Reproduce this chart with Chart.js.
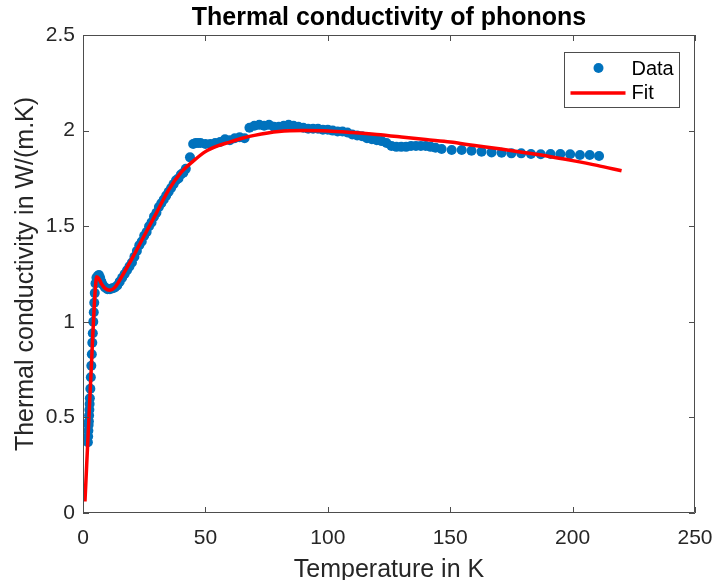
<!DOCTYPE html>
<html><head><meta charset="utf-8">
<script src="https://cdn.jsdelivr.net/npm/chart.js@4"></script>
<style>html,body{margin:0;padding:0;background:#fff}#wrap{width:714px;height:580px}</style>
</head><body><div id="wrap"><canvas id="c" width="714" height="580"></canvas></div>
<script>
// Measured data (Temperature in K, Thermal conductivity W/(m.K))
const dataT = [2.0,2.1,2.2,2.3,2.4,2.5,2.6,2.7,2.8,3.0,3.2,3.4,3.6,3.8,4.0,4.2,4.4,4.6,4.8,5.1,5.5,6.0,6.5,7.0,7.5,8,9,10,11,12,13,14,15,16,17,18,19,20,21,22,23,24,25,26,27,28,29,30,31,32,33,34,35,36,37,38,39,40,41,42,43.7,45,46,47,48,50,52,54,56,58,60,62,64,66,68,70,72,74,76,78,80,82,84,86,88,90,92,94,96,98,100,102,104,106,108,110,112,114,116,118,120,122,124,126,128,130,132,134,136,138,140,142,144,146.5,150.6,154.7,158.7,162.8,166.9,171,175,179,183,187,191,195,199,203,207,210.8];
const dataK = [0.37,0.40,0.43,0.46,0.48,0.51,0.54,0.57,0.60,0.65,0.71,0.77,0.83,0.89,0.94,1.00,1.05,1.10,1.15,1.20,1.23,1.24,1.245,1.23,1.21,1.195,1.18,1.17,1.17,1.175,1.18,1.19,1.21,1.23,1.25,1.27,1.29,1.31,1.34,1.37,1.40,1.42,1.45,1.47,1.50,1.52,1.55,1.57,1.60,1.62,1.64,1.66,1.68,1.70,1.72,1.74,1.75,1.77,1.78,1.80,1.86,1.93,1.935,1.935,1.935,1.93,1.93,1.935,1.94,1.955,1.95,1.96,1.965,1.96,2.015,2.025,2.03,2.025,2.03,2.02,2.02,2.025,2.03,2.025,2.02,2.015,2.01,2.01,2.01,2.005,2.005,2.0,1.995,1.995,1.99,1.98,1.975,1.97,1.96,1.955,1.95,1.945,1.935,1.92,1.915,1.915,1.915,1.92,1.92,1.92,1.92,1.915,1.91,1.904,1.899,1.899,1.895,1.89,1.886,1.884,1.881,1.881,1.878,1.876,1.878,1.878,1.876,1.872,1.872,1.867];
// Fitted curve
const fitT = [0.8,1.5,2,2.5,3,3.5,4,4.5,5,5.6,6.5,7.5,9,11,13,16,20,25,30,35,40,45,50,55,60,65,70,80,90,100,110,120,130,140,150,160,170,180,190,200,210,220];
const fitK = [0.06,0.25,0.385,0.52,0.655,0.79,0.93,1.06,1.17,1.235,1.225,1.2,1.175,1.165,1.18,1.24,1.33,1.45,1.57,1.69,1.78,1.84,1.89,1.92,1.94,1.96,1.975,1.995,2.0,1.998,1.99,1.98,1.967,1.953,1.94,1.922,1.905,1.886,1.866,1.843,1.818,1.79];
const xTicks = [0,50,100,150,200,250];
const yTicks = [0,0.5,1,1.5,2,2.5];
const seriesNames = ['Data','Fit'];
const titleText = 'Thermal conductivity of phonons';
const xLabel = 'Temperature in K';
const yLabel = 'Thermal conductivity in W/(m.K)';

const FONT = '"Liberation Sans", Arial, Helvetica, sans-serif';
const AX = '#262626';
const BLUE = '#0072BD';
const RED = '#FF0000';

const boxPlugin = {
  id: 'matlabBox',
  afterDatasetsDraw(chart) {
    const {ctx, chartArea: a, scales} = chart;
    ctx.save();
    ctx.strokeStyle = '#4d4d4d';
    ctx.lineWidth = 1;
    ctx.beginPath();
    ctx.rect(Math.round(a.left) + 0.5, Math.round(a.top) + 0.5, Math.round(a.right - a.left) - 1, Math.round(a.bottom - a.top) - 1);
    ctx.stroke();
    const L = 6;
    ctx.beginPath();
    xTicks.forEach(v => {
      const x = Math.round(scales.x.getPixelForValue(v)) + 0.5;
      ctx.moveTo(x, a.bottom); ctx.lineTo(x, a.bottom - L);
      ctx.moveTo(x, a.top); ctx.lineTo(x, a.top + L);
    });
    yTicks.forEach(v => {
      const y = Math.round(scales.y.getPixelForValue(v)) + 0.5;
      ctx.moveTo(a.left, y); ctx.lineTo(a.left + L, y);
      ctx.moveTo(a.right, y); ctx.lineTo(a.right - L, y);
    });
    ctx.stroke();
    // legend
    const bw = 115, bh = 55;
    const bx = Math.round(a.right - 16 - bw) + 0.5, by = Math.round(a.top + 17) + 0.5;
    ctx.fillStyle = '#fff';
    ctx.fillRect(bx, by, bw, bh);
    ctx.strokeStyle = '#4d4d4d';
    ctx.lineWidth = 1;
    ctx.strokeRect(bx, by, bw, bh);
    ctx.fillStyle = BLUE;
    ctx.beginPath();
    ctx.arc(bx + 34, by + 15.5, 5, 0, Math.PI * 2);
    ctx.fill();
    ctx.strokeStyle = RED;
    ctx.lineWidth = 3.5;
    ctx.beginPath();
    ctx.moveTo(bx + 6, by + 40.5); ctx.lineTo(bx + 61, by + 40.5);
    ctx.stroke();
    ctx.fillStyle = '#000';
    ctx.font = '20px ' + FONT;
    ctx.textBaseline = 'middle';
    ctx.textAlign = 'left';
    ctx.fillText(seriesNames[0], bx + 67, by + 17);
    ctx.fillText(seriesNames[1], bx + 67, by + 41);
    ctx.restore();
  }
};

new Chart(document.getElementById('c'), {
  type: 'scatter',
  data: {
    datasets: [
      {
        label: seriesNames[1],
        data: fitT.map((t, i) => ({x: t, y: fitK[i]})),
        showLine: true,
        borderColor: RED,
        borderWidth: 3.5,
        pointRadius: 0,
        cubicInterpolationMode: 'monotone',
        fill: false
      },
      {
        label: seriesNames[0],
        data: dataT.map((t, i) => ({x: t, y: dataK[i]})),
        showLine: false,
        backgroundColor: BLUE,
        borderWidth: 0,
        pointRadius: 5
      }
    ]
  },
  options: {
    responsive: false,
    animation: false,
    devicePixelRatio: 1,
    layout: {padding: {left: 0, right: 19, top: 0, bottom: 0}},
    plugins: {
      legend: {display: false},
      tooltip: {enabled: false},
      title: {
        display: true,
        text: titleText,
        fullSize: false,
        color: '#000',
        font: {family: FONT, size: 25, weight: 'bold', lineHeight: 1.2},
        padding: {top: 3, bottom: 2}
      }
    },
    scales: {
      x: {
        type: 'linear', min: 0, max: 250,
        afterBuildTicks: s => { s.ticks = xTicks.map(v => ({value: v})); },
        afterFit: s => { s.height = 67; s.paddingLeft = 0; s.paddingRight = 0; },
        grid: {display: false, drawTicks: false},
        border: {display: false},
        ticks: {color: AX, font: {family: FONT, size: 21}, padding: 13, maxRotation: 0, callback: v => String(v)},
        title: {display: true, text: xLabel, color: AX, font: {family: FONT, size: 25, lineHeight: 0.76}, padding: {top: 0, bottom: 0}}
      },
      y: {
        type: 'linear', min: 0, max: 2.5,
        afterBuildTicks: s => { s.ticks = yTicks.map(v => ({value: v})); },
        afterFit: s => { s.width = 83; },
        grid: {display: false, drawTicks: false},
        border: {display: false},
        ticks: {color: AX, font: {family: FONT, size: 21}, padding: 8, callback: v => String(v)},
        title: {display: true, text: yLabel, color: AX, font: {family: FONT, size: 25, lineHeight: 1}, padding: {top: 14, bottom: 0}}
      }
    }
  },
  plugins: [boxPlugin]
});
</script>
</body></html>
